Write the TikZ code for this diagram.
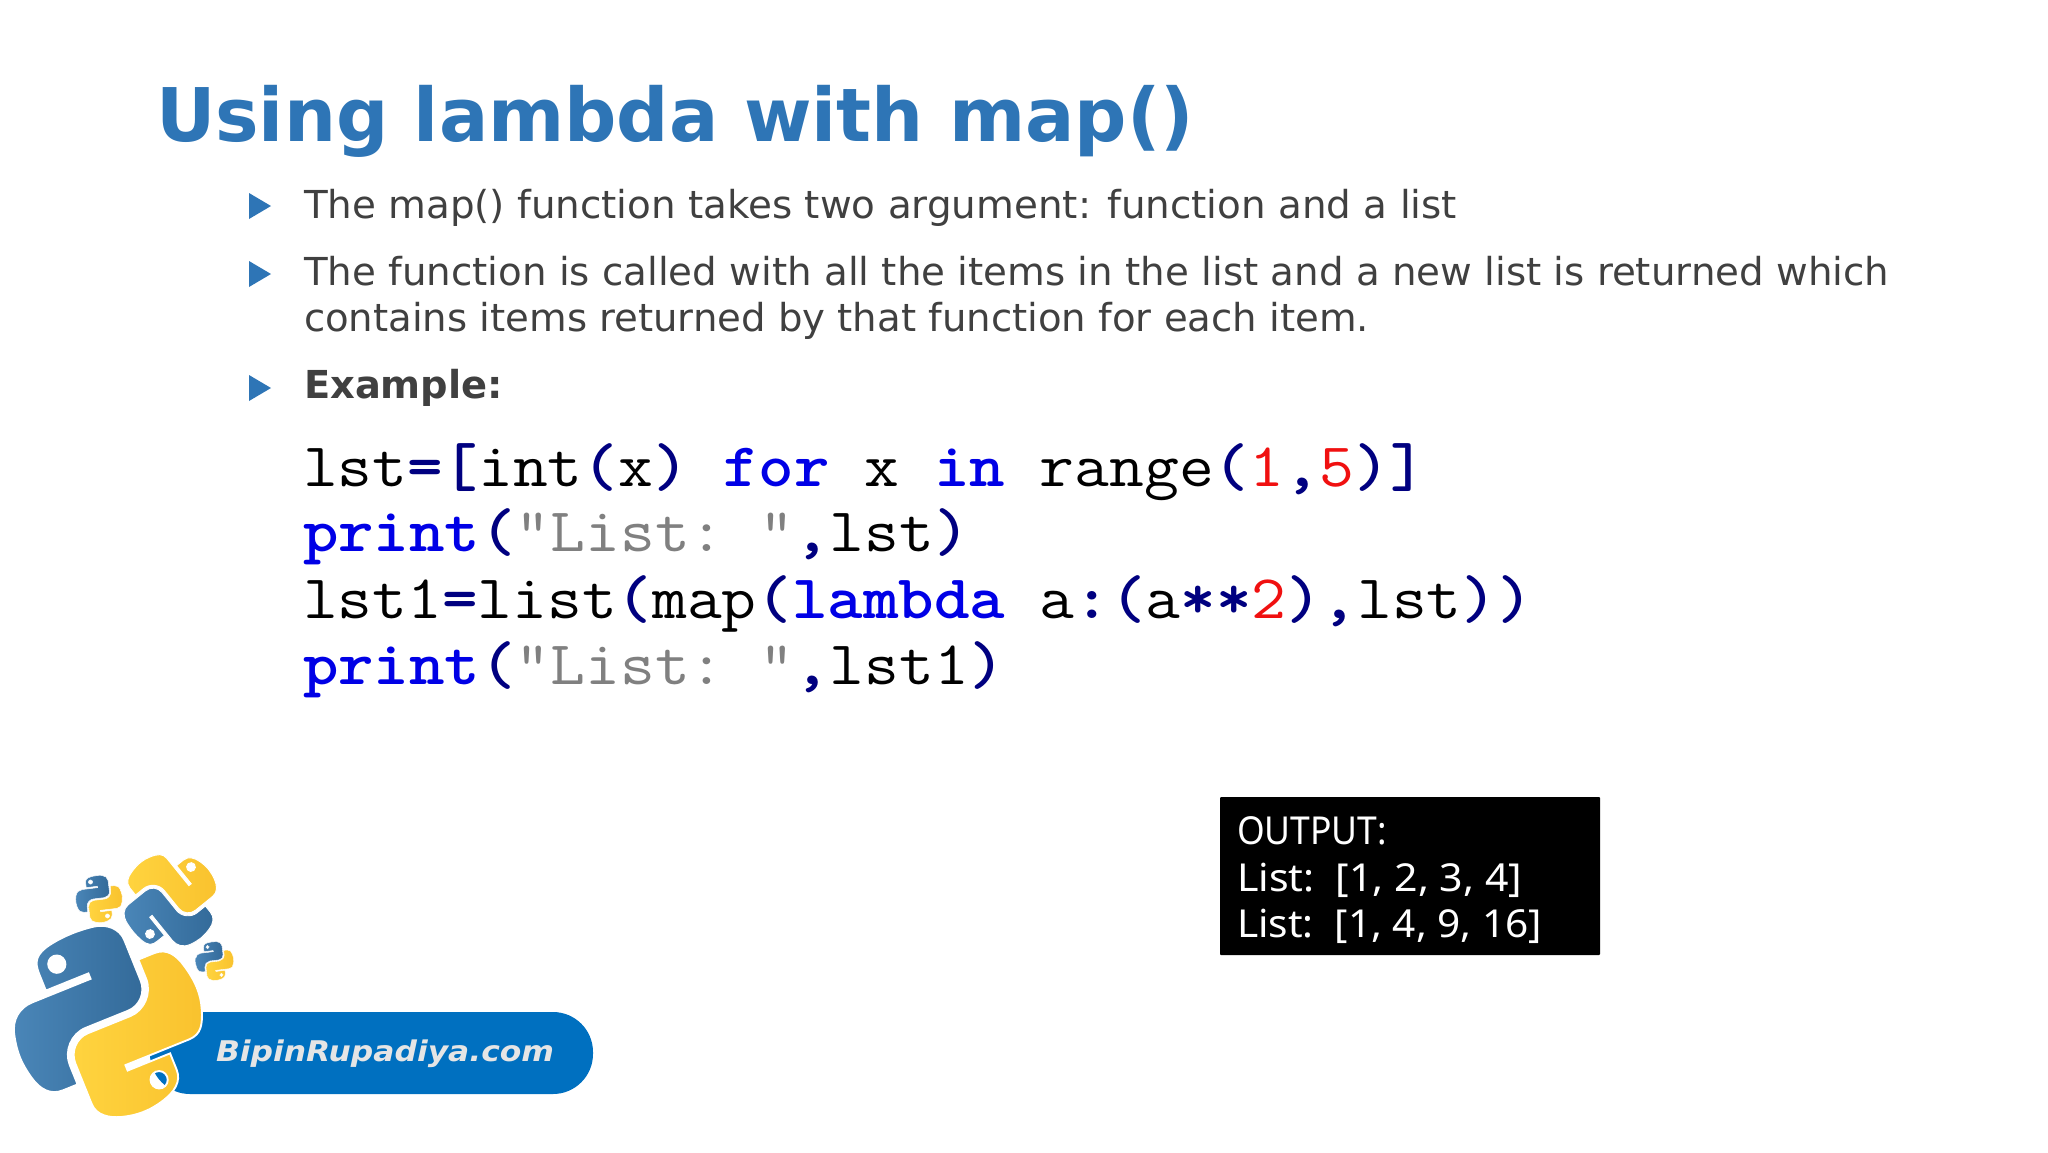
\documentclass[tikz,border=0pt]{standalone}
\usepackage{fontspec}
\usepackage{graphicx}
\setmainfont{DejaVu Sans}
\newfontfamily\outfont{Noto Sans}
\usetikzlibrary{svg.path}
\definecolor{titleblue}{HTML}{2E75B6}
\definecolor{bodygray}{HTML}{404040}
\definecolor{pillblue}{HTML}{0070C0}
\definecolor{navy}{HTML}{000080}
\definecolor{kwblue}{HTML}{0000E6}
\definecolor{strgray}{HTML}{808080}
\definecolor{numred}{HTML}{F01010}
\definecolor{snakeA}{HTML}{4A86B8}
\definecolor{snakeB}{HTML}{336A99}
\definecolor{snakeC}{HTML}{FFD43F}
\definecolor{snakeD}{HTML}{F9C22E}
\newcommand\fitto[2]{\resizebox{#1pt}{\height}{#2}}
\newcommand\pn[1]{{\color{navy}\bfseries #1}}
\newcommand\kw[1]{{\color{kwblue}\bfseries #1}}
\newcommand\st[1]{{\color{strgray}#1}}
\newcommand\nm[1]{{\color{numred}#1}}
\newcommand\codeline[1]{\scalebox{1.09}[1]{\ttfamily\fontsize{62}{62}\selectfont #1}}
\newcommand\pylogo[4]{%
  \begin{scope}[shift={(#1,#2)},rotate=#3,scale=#4,yscale=-1,shift={(-55.5pt,-55.9pt)}]
    \path[snakeblue,line width=#4*1.1pt] svg {M 54.92,0 C 50.34,0.02 45.96,0.41 42.11,1.09 C 30.76,3.10 28.70,7.29 28.70,15.03 v 10.22 h 26.81 v 3.41 h -36.87 c -7.79,0 -14.62,4.68 -16.75,13.59 c -2.46,10.21 -2.57,16.59 0,27.25 c 1.91,7.94 6.46,13.59 14.25,13.59 h 9.22 v -12.25 c 0,-8.85 7.66,-16.66 16.75,-16.66 h 26.78 c 7.45,0 13.41,-6.14 13.41,-13.63 v -25.53 c 0,-7.27 -6.13,-12.72 -13.41,-13.94 C 64.28,0.33 59.50,-0.02 54.92,0 z M 40.42,8.22 c 2.77,0 5.03,2.30 5.03,5.12 c 0,2.82 -2.26,5.09 -5.03,5.09 c -2.78,0 -5.03,-2.28 -5.03,-5.09 c 0,-2.83 2.25,-5.12 5.03,-5.12 z};
    \path[snakeyellow,line width=#4*1.1pt] svg {M 85.64,28.66 v 11.91 c 0,9.23 -7.83,17 -16.75,17 h -26.78 c -7.34,0 -13.41,6.28 -13.41,13.63 v 25.53 c 0,7.27 6.32,11.54 13.41,13.63 c 8.49,2.50 16.63,2.95 26.78,0 c 6.75,-1.95 13.41,-5.89 13.41,-13.63 v -10.22 h -26.78 v -3.41 h 40.19 c 7.79,0 10.70,-5.44 13.41,-13.59 c 2.80,-8.40 2.74,-16.48 0,-27.25 c -1.93,-7.76 -5.60,-13.59 -13.41,-13.59 z M 70.58,93.31 c 2.78,0 5.03,2.28 5.03,5.09 c 0,2.83 -2.25,5.13 -5.03,5.13 c -2.77,0 -5.03,-2.30 -5.03,-5.13 c 0,-2.82 2.26,-5.09 5.03,-5.09 z};
  \end{scope}}
\tikzset{
  snakeblue/.style={even odd rule,draw=white,left color=snakeA,right color=snakeB},
  snakeyellow/.style={even odd rule,draw=white,left color=snakeC,right color=snakeD},
  txt/.style={inner sep=0pt,outer sep=0pt,anchor=base west},
  titletxt/.style={txt,font=\bfseries\fontsize{74}{74}\selectfont,text=titleblue},
  bodytxt/.style={txt,font=\fontsize{38.5}{38.5}\selectfont,text=bodygray},
  boldtxt/.style={txt,font=\bfseries\fontsize{38.5}{38.5}\selectfont,text=bodygray},
  codetxt/.style={txt,text=black},
  outtxt/.style={txt,font=\outfont\fontsize{38.5}{38.5}\selectfont,text=white},
  bullet/.style={fill=titleblue,draw=none},
  pill/.style={fill=pillblue,draw=none,rounded corners=40pt},
  outbox/.style={fill=black,draw=none,rounded corners=1pt},
  brandtxt/.style={txt,font=\bfseries\itshape\fontsize{28.5}{28.5}\selectfont,text=white!90!black}
}
\begin{document}
\begin{tikzpicture}[x=1pt,y=-1pt]
\useasboundingbox (0,0) rectangle (2048,1152);
\fill[white] (0,0) rectangle (2048,1152);
\node[titletxt] (title) at (156,141) {\fitto{1038}{Using lambda with map()}};
% bullets
\fill[bullet] (249,193) -- (271,206) -- (249,219) -- cycle;
\fill[bullet] (249,261) -- (271,274) -- (249,287) -- cycle;
\fill[bullet] (249,375) -- (271,388) -- (249,401) -- cycle;
\node[bodytxt] (b1) at (304,218) {\fitto{1153}{The map() function takes two argument: function and a list}};
\node[bodytxt] (b2) at (304,285) {\fitto{1585}{The function is called with all the items in the list and a new list is returned which}};
\node[bodytxt] (b3) at (304,331) {\fitto{1065}{contains items returned by that function for each item.}};
\node[boldtxt] (b4) at (304,398) {\fitto{199}{Example:}};
% code
\node[codetxt] (c1) at (303,486) {\codeline{lst\pn{=[}int\pn{(}x\pn{)}~\kw{for}~x~\kw{in}~range\pn{(}\nm{1}\pn{,}\nm{5}\pn{)]}}};
\node[codetxt] (c2) at (303,551) {\codeline{\kw{print}\pn{(}\st{"List:~"}\pn{,}lst\pn{)}}};
\node[codetxt] (c3) at (303,618) {\codeline{lst1\pn{=}list\pn{(}map\pn{(}\kw{lambda}~a\pn{:(}a\pn{**}\nm{2}\pn{),}lst\pn{))}}};
\node[codetxt] (c4) at (303,684) {\codeline{\kw{print}\pn{(}\st{"List:~"}\pn{,}lst1\pn{)}}};
% output box
\path[outbox] (1220,797) rectangle (1600,955);
\node[outtxt] (o1) at (1237,844) {\fitto{150}{OUTPUT:}};
\node[outtxt] (o2) at (1237,891) {\fitto{285}{List:\ \ [1, 2, 3, 4]}};
\node[outtxt] (o3) at (1237,937) {\fitto{305}{List:\ \ [1, 4, 9, 16]}};
% brand
\path[pill] (150,1012) rectangle (593,1094);
\node[brandtxt] (brand) at (216,1061) {\fitto{338}{BipinRupadiya.com}};
\pylogo{108}{1022}{22}{1.71}
\pylogo{170.5}{900.5}{129}{0.87}
\pylogo{99}{899}{7}{0.42}
\pylogo{214.5}{961}{7}{0.345}
\end{tikzpicture}
\end{document}
